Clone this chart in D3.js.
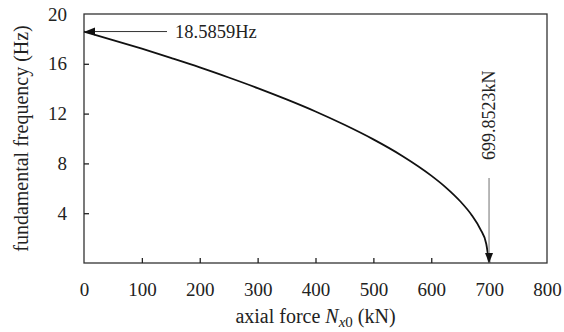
<!DOCTYPE html>
<meta charset="utf-8">
<style>
body {
  margin: 0;
  background: #fff;
  font-family: "Liberation Serif", "Times New Roman", serif;
}

text {
  fill: #222;
}
</style>
<body>
<script src="https://cdn.jsdelivr.net/npm/d3@7"></script>
<script>

// values
var force = [0, 50, 100, 150, 200, 250, 300, 350, 400, 450, 500, 550, 600, 625, 650, 670, 685, 695, 699.85];
var freq = [18.59, 17.91, 17.21, 16.47, 15.71, 14.90, 14.05, 13.14, 12.17, 11.10, 9.93, 8.60, 7.02, 6.08, 4.96, 3.84, 2.71, 1.55, 0];
var xTicks = [0, 100, 200, 300, 400, 500, 600, 700, 800];
var yTicks = [4, 8, 12, 16, 20];

var width = 564,
    height = 332,
    margin = {left: 84, right: 17, top: 14, bottom: 69};

var x = d3.scaleLinear()
    .domain([0, 800])
    .range([margin.left, width - margin.right]);

var y = d3.scaleLinear()
    .domain([0, 20])
    .range([height - margin.bottom, margin.top]);

var svg = d3.select("body").append("svg")
    .attr("width", width)
    .attr("height", height);

var defs = svg.append("defs");
defs.append("marker")
    .attr("id", "head")
    .attr("viewBox", "0 0 10 10")
    .attr("refX", 10)
    .attr("refY", 5)
    .attr("markerWidth", 11)
    .attr("markerHeight", 10)
    .attr("markerUnits", "userSpaceOnUse")
    .attr("orient", "auto")
  .append("path")
    .attr("d", "M0,1L10,5L0,9Z")
    .attr("fill", "#111");

// frame
svg.append("rect")
    .attr("x", x(0))
    .attr("y", y(20))
    .attr("width", x(800) - x(0))
    .attr("height", y(0) - y(20))
    .attr("fill", "none")
    .attr("stroke", "#333")
    .attr("stroke-width", 1.3);

// x axis, ticks pointing inward
var xAxis = svg.append("g")
    .attr("transform", "translate(0," + y(0) + ")")
    .call(d3.axisBottom(x).tickValues(xTicks).tickSizeInner(-5).tickSizeOuter(0).tickPadding(20));
xAxis.select(".domain").remove();
xAxis.selectAll("line").attr("stroke", "#222").attr("stroke-width", 1.3);
xAxis.selectAll("text")
    .attr("font-family", "Liberation Serif")
    .attr("font-size", 19)
    .attr("fill", "#222");
xAxis.selectAll(".tick").filter(function(d) { return d === 0 || d === 800; }).select("line").remove();

// y axis
var yAxis = svg.append("g")
    .attr("transform", "translate(" + x(0) + ",0)")
    .call(d3.axisLeft(y).tickValues(yTicks).tickSizeInner(-5).tickSizeOuter(0).tickPadding(17));
yAxis.select(".domain").remove();
yAxis.selectAll("line").attr("stroke", "#222").attr("stroke-width", 1.3);
yAxis.selectAll("text")
    .attr("font-family", "Liberation Serif")
    .attr("font-size", 19)
    .attr("fill", "#222");
yAxis.selectAll(".tick").filter(function(d) { return d === 20; }).select("line").remove();

// curve
var line = d3.line()
    .x(function(d, i) { return x(force[i]); })
    .y(function(d, i) { return y(freq[i]); })
    .curve(d3.curveMonotoneX);

svg.append("path")
    .datum(force)
    .attr("d", line)
    .attr("fill", "none")
    .attr("stroke", "#111")
    .attr("stroke-width", 1.8);

// annotation: first frequency
svg.append("line")
    .attr("x1", x(0) + 83)
    .attr("y1", y(freq[0]))
    .attr("x2", x(0) + 1)
    .attr("y2", y(freq[0]))
    .attr("stroke", "#333")
    .attr("stroke-width", 1)
    .attr("marker-end", "url(#head)");

svg.append("text")
    .attr("x", x(0) + 91)
    .attr("y", y(freq[0]) + 6)
    .attr("font-size", 18.5)
    .text("18.5859Hz");

// annotation: critical force
var xc = x(force[force.length - 1]);
svg.append("line")
    .attr("x1", xc)
    .attr("y1", 178)
    .attr("x2", xc)
    .attr("y2", y(0))
    .attr("stroke", "#888")
    .attr("stroke-width", 1.2)
    .attr("marker-end", "url(#head)");

svg.append("text")
    .attr("transform", "translate(" + (xc + 6) + ",160) rotate(-90)")
    .attr("font-size", 18)
    .text("699.8523kN");

// axis titles
svg.append("text")
    .attr("transform", "translate(28," + ((y(0) + y(20)) / 2) + ") rotate(-90)")
    .attr("text-anchor", "middle")
    .attr("font-size", 20)
    .text("fundamental frequency (Hz)");

var xt = svg.append("text")
    .attr("x", (x(0) + x(800)) / 2)
    .attr("y", 323)
    .attr("text-anchor", "middle")
    .attr("font-size", 20);
xt.append("tspan").text("axial force ");
xt.append("tspan").attr("font-style", "italic").text("N");
xt.append("tspan").attr("font-style", "italic").attr("font-size", 15).attr("dy", 4).text("x");
xt.append("tspan").attr("font-size", 15).text("0");
xt.append("tspan").attr("dy", -4).text(" (kN)");

</script>
